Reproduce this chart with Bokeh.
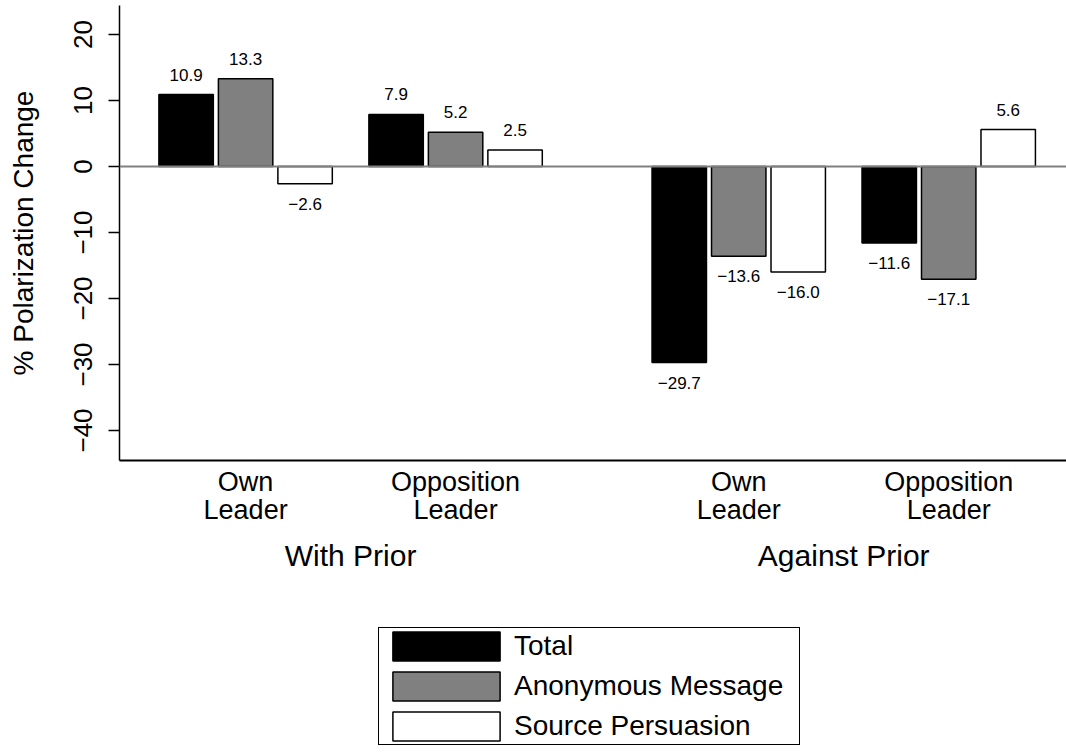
from bokeh.plotting import figure
from bokeh.layouts import column
from bokeh.models import (ColumnDataSource, FixedTicker, LinearAxis, Legend,
                          LegendItem, Span, Range1d)
from bokeh.core.properties import value
from bokeh.embed import file_html
from bokeh.resources import INLINE

# ---- data ----
priors = ["With Prior", "Against Prior"]
leaders = ["Own\nLeader", "Opposition\nLeader"]
series_names = ["Total", "Anonymous Message", "Source Persuasion"]
total = [10.9, 7.9, -29.7, -11.6]
anonymous = [13.3, 5.2, -13.6, -17.1]
source = [-2.6, 2.5, -16.0, 5.6]
y_ticks = [-40, -30, -20, -10, 0, 10, 20]

series_values = [total, anonymous, source]
fills = ["black", "#808080", "white"]

# ---- layout of groups (bar pitch = 1 unit) ----
gap_leader = 3.53
gap_prior = 8.29
bases = []
cat_labels = []
for gi, _ in enumerate(priors):
    for li, lab in enumerate(leaders):
        bases.append(gi * gap_prior + li * gap_leader)
        cat_labels.append(lab)

FONT = "Liberation Sans"

p = figure(frame_width=947, frame_height=455,
           x_range=Range1d(-1.12, 14.8), y_range=Range1d(-44.55, 24.4),
           output_backend="svg", toolbar_location=None,
           min_border_left=119, min_border_right=0, min_border_top=5,
           min_border_bottom=160)
p.grid.visible = False
p.outline_line_color = None
p.background_fill_color = "white"
p.border_fill_color = "white"

sources = []
for si, (name, vals) in enumerate(zip(series_names, series_values)):
    xs = [b + si for b in bases]
    src = ColumnDataSource(dict(x=xs, top=vals))
    sources.append(src)
    p.vbar(x="x", top="top", bottom=0, width=0.915, source=src,
           fill_color=fills[si], line_color="black", line_width=1.5)
    pos = [(x, v, f"{v:.1f}") for x, v in zip(xs, vals) if v >= 0]
    neg = [(x, v, f"{v:.1f}".replace("-", "\u2212")) for x, v in zip(xs, vals) if v < 0]
    for subset, off in ((pos, -20), (neg, 20)):
        if not subset:
            continue
        s = ColumnDataSource(dict(x=[a[0] for a in subset], y=[a[1] for a in subset],
                                  t=[a[2] for a in subset]))
        p.text(x="x", y="y", text="t", source=s, y_offset=off,
               text_align="center", text_baseline="middle",
               text_font=value(FONT), text_font_size="17px", text_color="black")

p.add_layout(Span(location=0, dimension="width", line_color="#808080", line_width=2))

# y axis
ya = p.yaxis[0]
ya.ticker = FixedTicker(ticks=y_ticks)
ya.major_label_overrides = {t: str(t).replace("-", "\u2212") for t in y_ticks}
ya.major_label_orientation = "vertical"
ya.major_label_text_font = FONT
ya.major_label_text_font_size = "26px"
ya.major_label_text_color = "black"
ya.major_label_standoff = 16
ya.major_tick_in = 0
ya.major_tick_out = 11
ya.major_tick_line_color = "black"
ya.major_tick_line_width = 1.5
ya.minor_tick_line_color = None
ya.axis_line_color = "black"
ya.axis_line_width = 1.5
ya.axis_label = "% Polarization Change"
ya.axis_label_text_font = FONT
ya.axis_label_text_font_size = "28px"
ya.axis_label_text_font_style = "normal"
ya.axis_label_text_color = "black"
ya.axis_label_standoff = 33

# x axis (leader categories)
xa = p.xaxis[0]
centers = [b + 1 for b in bases]
xa.ticker = FixedTicker(ticks=centers)
xa.major_label_overrides = {c: l for c, l in zip(centers, cat_labels)}
xa.major_label_text_font = FONT
xa.major_label_text_font_size = "27px"
xa.major_label_text_color = "black"
xa.major_label_text_line_height = 0.95
xa.major_label_standoff = 0
xa.major_tick_line_color = None
xa.minor_tick_line_color = None
xa.axis_line_color = "black"
xa.axis_line_width = 2

# second x axis (prior groups)
gcent = [(centers[0] + centers[1]) / 2, (centers[2] + centers[3]) / 2]
ga = LinearAxis(ticker=FixedTicker(ticks=gcent),
                major_label_overrides={c: l for c, l in zip(gcent, priors)})
ga.major_label_text_font = FONT
ga.major_label_text_font_size = "30px"
ga.major_label_text_color = "black"
ga.major_label_standoff = 4
ga.major_tick_line_color = None
ga.minor_tick_line_color = None
ga.axis_line_color = None
p.add_layout(ga, "below")

# ---- legend panel (a small figure holding only the key; its view window
# lies away from the bars so only the key itself shows) ----
pl = figure(width=1066, height=136, x_range=Range1d(-1000, -999), y_range=Range1d(1000, 1001),
            x_axis_type=None, y_axis_type=None,
            output_backend="svg", toolbar_location=None, min_border=0)
pl.grid.visible = False
pl.outline_line_color = None
pl.background_fill_color = "white"
pl.border_fill_color = "white"
key_renderers = []
for si, name in enumerate(series_names):
    key_renderers.append(pl.vbar(x="x", top="top", bottom=0, width=0.915, source=sources[si],
                                 fill_color=fills[si], line_color="black", line_width=1.5))

legend = Legend(items=[LegendItem(label=n, renderers=[r]) for n, r in zip(series_names, key_renderers)],
                location=(259, 11), orientation="vertical")
legend.label_text_font = FONT
legend.label_text_font_size = "28px"
legend.label_text_color = "black"
legend.glyph_width = 134
legend.glyph_height = 36
legend.label_height = 36
legend.label_width = 285
legend.label_standoff = 1
legend.spacing = 4
legend.padding = 0
legend.margin = 0
legend.border_line_color = "black"
legend.border_line_alpha = 1.0
legend.border_line_width = 1.5
legend.background_fill_alpha = 1.0
pl.add_layout(legend, "center")

layout = column(p, pl, spacing=0)
open("out.html", "w").write(file_html(layout, INLINE))
